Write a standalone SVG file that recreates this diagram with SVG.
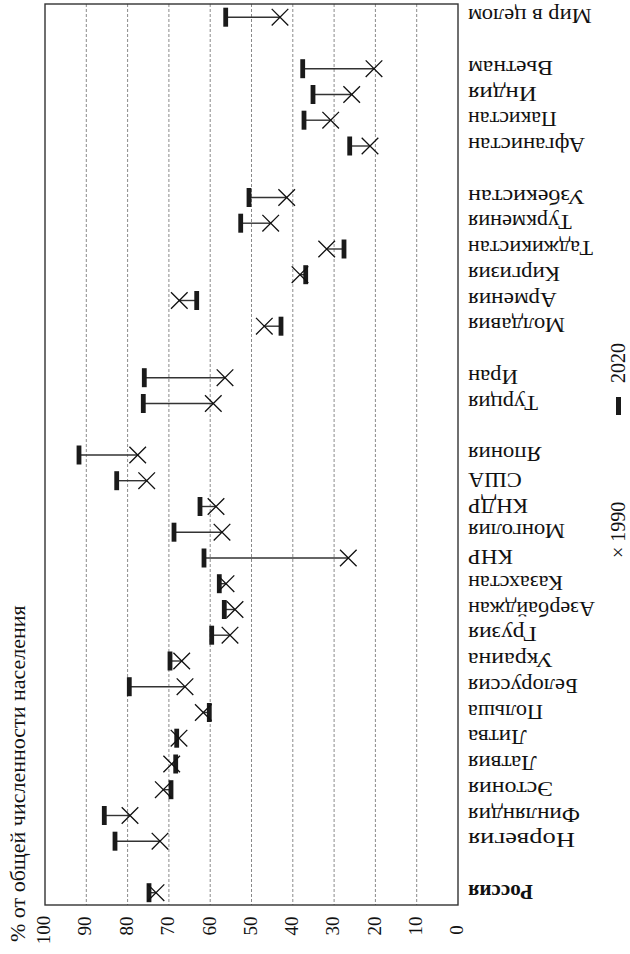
<svg xmlns="http://www.w3.org/2000/svg" xmlns:xlink="http://www.w3.org/1999/xlink" width="630" height="954" viewBox="0 0 630 954">
<style>
.lbl{font-family:"Liberation Serif","Times New Roman",serif;font-size:22px;fill:#111}
.b{font-weight:bold}
.tick{font-family:"Liberation Serif","Times New Roman",serif;font-size:19px;fill:#111}
.leg{font-family:"Liberation Serif","Times New Roman",serif;font-size:20px;fill:#111}
.ttl{font-family:"Liberation Serif","Times New Roman",serif;font-size:22px;fill:#111}
.grid{stroke:#8a8a8a;stroke-width:1;stroke-dasharray:3 2;fill:none}
.frame{fill:none;stroke:#333;stroke-width:1.4}
.conn{stroke:#333;stroke-width:1.4}
.xm{stroke:#111;stroke-width:1.3;fill:none}
.bar{fill:#1a1a1a}
</style>
<defs>
<path id="xmk" class="xm" d="M-8.3,-8.3L8.3,8.3M-8.3,8.3L8.3,-8.3"/>
<rect id="bmk" class="bar" x="-2.4" y="-9.5" width="4.8" height="19"/>
</defs>
<rect x="0" y="0" width="630" height="954" fill="#fff"/>
<g id="grid">
<line class="grid" x1="86.3" y1="4" x2="86.3" y2="905"/>
<line class="grid" x1="127.6" y1="4" x2="127.6" y2="905"/>
<line class="grid" x1="168.9" y1="4" x2="168.9" y2="905"/>
<line class="grid" x1="210.2" y1="4" x2="210.2" y2="905"/>
<line class="grid" x1="251.5" y1="4" x2="251.5" y2="905"/>
<line class="grid" x1="292.8" y1="4" x2="292.8" y2="905"/>
<line class="grid" x1="334.1" y1="4" x2="334.1" y2="905"/>
<line class="grid" x1="375.4" y1="4" x2="375.4" y2="905"/>
<line class="grid" x1="416.7" y1="4" x2="416.7" y2="905"/>
</g>
<rect id="frame" class="frame" x="45" y="4" width="413" height="901"/>
<g id="axis">
<text class="ttl" transform="rotate(-90 25 942)" x="25" y="942">% от общей численности населения</text>
<text class="tick" transform="rotate(-90 50 930)" x="50" y="930" text-anchor="middle">100</text>
<text class="tick" transform="rotate(-90 91 926)" x="91" y="926" text-anchor="middle">90</text>
<text class="tick" transform="rotate(-90 132.5 926)" x="132.5" y="926" text-anchor="middle">80</text>
<text class="tick" transform="rotate(-90 174 926)" x="174" y="926" text-anchor="middle">70</text>
<text class="tick" transform="rotate(-90 215.5 926)" x="215.5" y="926" text-anchor="middle">60</text>
<text class="tick" transform="rotate(-90 256.5 926)" x="256.5" y="926" text-anchor="middle">50</text>
<text class="tick" transform="rotate(-90 298 926)" x="298" y="926" text-anchor="middle">40</text>
<text class="tick" transform="rotate(-90 339 926)" x="339" y="926" text-anchor="middle">30</text>
<text class="tick" transform="rotate(-90 380.5 926)" x="380.5" y="926" text-anchor="middle">20</text>
<text class="tick" transform="rotate(-90 421.5 926)" x="421.5" y="926" text-anchor="middle">10</text>
<text class="tick" transform="rotate(-90 463 930)" x="463" y="930" text-anchor="middle">0</text>
</g>
<g id="legend">
<text class="leg" transform="rotate(-90 625 558)" x="625" y="558">× 1990</text>
<rect class="bar" x="616" y="397" width="5" height="18"/>
<text class="leg" transform="rotate(-90 625 383)" x="625" y="383">2020</text>
</g>
<g id="connectors">
<line class="conn" x1="149" y1="892.7" x2="156" y2="892.7"/>
<line class="conn" x1="115" y1="841.2" x2="160" y2="841.2"/>
<line class="conn" x1="104.3" y1="815.5" x2="130" y2="815.5"/>
<line class="conn" x1="171" y1="789.7" x2="163.3" y2="789.7"/>
<line class="conn" x1="175.7" y1="764" x2="171.7" y2="764"/>
<line class="conn" x1="176.7" y1="738.2" x2="179" y2="738.2"/>
<line class="conn" x1="209.3" y1="712.5" x2="203.3" y2="712.5"/>
<line class="conn" x1="129.3" y1="686.7" x2="185" y2="686.7"/>
<line class="conn" x1="170" y1="661" x2="181.7" y2="661"/>
<line class="conn" x1="211.7" y1="635.2" x2="230" y2="635.2"/>
<line class="conn" x1="224.3" y1="609.5" x2="235" y2="609.5"/>
<line class="conn" x1="219.3" y1="583.7" x2="226" y2="583.7"/>
<line class="conn" x1="204" y1="558" x2="348.3" y2="558"/>
<line class="conn" x1="174" y1="532.2" x2="222" y2="532.2"/>
<line class="conn" x1="200" y1="506.5" x2="216" y2="506.5"/>
<line class="conn" x1="116.7" y1="480.7" x2="146.7" y2="480.7"/>
<line class="conn" x1="79" y1="455" x2="137.7" y2="455"/>
<line class="conn" x1="143.3" y1="403.5" x2="213.3" y2="403.5"/>
<line class="conn" x1="144.3" y1="377.7" x2="225" y2="377.7"/>
<line class="conn" x1="281" y1="326.2" x2="264.3" y2="326.2"/>
<line class="conn" x1="196.7" y1="300.5" x2="179.3" y2="300.5"/>
<line class="conn" x1="305.7" y1="274.7" x2="300" y2="274.7"/>
<line class="conn" x1="344" y1="249" x2="326.7" y2="249"/>
<line class="conn" x1="240.7" y1="223.2" x2="270.7" y2="223.2"/>
<line class="conn" x1="249" y1="197.5" x2="286.7" y2="197.5"/>
<line class="conn" x1="349.7" y1="146" x2="370" y2="146"/>
<line class="conn" x1="304" y1="120.2" x2="330.7" y2="120.2"/>
<line class="conn" x1="313" y1="94.5" x2="351.7" y2="94.5"/>
<line class="conn" x1="302.7" y1="68.7" x2="374" y2="68.7"/>
<line class="conn" x1="225.7" y1="17.2" x2="280" y2="17.2"/>
</g>
<g id="n-russia"><use href="#bmk" x="149" y="892.7"/><use href="#xmk" x="156" y="892.7"/><text class="lbl b" transform="rotate(180 468 884.7)" x="468" y="884.7" text-anchor="end" textLength="65" lengthAdjust="spacingAndGlyphs">Россия</text></g>
<g id="n-norway"><use href="#bmk" x="115" y="841.2"/><use href="#xmk" x="160" y="841.2"/><text class="lbl" transform="rotate(180 468 833.2)" x="468" y="833.2" text-anchor="end" textLength="107" lengthAdjust="spacingAndGlyphs">Норвегия</text></g>
<g id="n-finland"><use href="#bmk" x="104.3" y="815.5"/><use href="#xmk" x="130" y="815.5"/><text class="lbl" transform="rotate(180 468 807.5)" x="468" y="807.5" text-anchor="end" textLength="112" lengthAdjust="spacingAndGlyphs">Финляндия</text></g>
<g id="n-estonia"><use href="#bmk" x="171" y="789.7"/><use href="#xmk" x="163.3" y="789.7"/><text class="lbl" transform="rotate(180 468 781.7)" x="468" y="781.7" text-anchor="end" textLength="85" lengthAdjust="spacingAndGlyphs">Эстония</text></g>
<g id="n-latvia"><use href="#bmk" x="175.7" y="764"/><use href="#xmk" x="171.7" y="764"/><text class="lbl" transform="rotate(180 468 756)" x="468" y="756" text-anchor="end" textLength="68.7" lengthAdjust="spacingAndGlyphs">Латвия</text></g>
<g id="n-lithuania"><use href="#bmk" x="176.7" y="738.2"/><use href="#xmk" x="179" y="738.2"/><text class="lbl" transform="rotate(180 468 730.2)" x="468" y="730.2" text-anchor="end" textLength="58.7" lengthAdjust="spacingAndGlyphs">Литва</text></g>
<g id="n-poland"><use href="#bmk" x="209.3" y="712.5"/><use href="#xmk" x="203.3" y="712.5"/><text class="lbl" transform="rotate(180 468 704.5)" x="468" y="704.5" text-anchor="end" textLength="75" lengthAdjust="spacingAndGlyphs">Польша</text></g>
<g id="n-belarus"><use href="#bmk" x="129.3" y="686.7"/><use href="#xmk" x="185" y="686.7"/><text class="lbl" transform="rotate(180 468 678.7)" x="468" y="678.7" text-anchor="end" textLength="110" lengthAdjust="spacingAndGlyphs">Белоруссия</text></g>
<g id="n-ukraine"><use href="#bmk" x="170" y="661"/><use href="#xmk" x="181.7" y="661"/><text class="lbl" transform="rotate(180 468 653)" x="468" y="653" text-anchor="end" textLength="85" lengthAdjust="spacingAndGlyphs">Украина</text></g>
<g id="n-georgia"><use href="#bmk" x="211.7" y="635.2"/><use href="#xmk" x="230" y="635.2"/><text class="lbl" transform="rotate(180 468 627.2)" x="468" y="627.2" text-anchor="end" textLength="68.7" lengthAdjust="spacingAndGlyphs">Грузия</text></g>
<g id="n-azerbaijan"><use href="#bmk" x="224.3" y="609.5"/><use href="#xmk" x="235" y="609.5"/><text class="lbl" transform="rotate(180 468 601.5)" x="468" y="601.5" text-anchor="end" textLength="127" lengthAdjust="spacingAndGlyphs">Азербайджан</text></g>
<g id="n-kazakhstan"><use href="#bmk" x="219.3" y="583.7"/><use href="#xmk" x="226" y="583.7"/><text class="lbl" transform="rotate(180 468 575.7)" x="468" y="575.7" text-anchor="end" textLength="95" lengthAdjust="spacingAndGlyphs">Казахстан</text></g>
<g id="n-china"><use href="#bmk" x="204" y="558"/><use href="#xmk" x="348.3" y="558"/><text class="lbl" transform="rotate(180 468 550)" x="468" y="550" text-anchor="end" textLength="45" lengthAdjust="spacingAndGlyphs">КНР</text></g>
<g id="n-mongolia"><use href="#bmk" x="174" y="532.2"/><use href="#xmk" x="222" y="532.2"/><text class="lbl" transform="rotate(180 468 524.2)" x="468" y="524.2" text-anchor="end" textLength="97" lengthAdjust="spacingAndGlyphs">Монголия</text></g>
<g id="n-dprk"><use href="#bmk" x="200" y="506.5"/><use href="#xmk" x="216" y="506.5"/><text class="lbl" transform="rotate(180 468 498.5)" x="468" y="498.5" text-anchor="end" textLength="60" lengthAdjust="spacingAndGlyphs">КНДР</text></g>
<g id="n-usa"><use href="#bmk" x="116.7" y="480.7"/><use href="#xmk" x="146.7" y="480.7"/><text class="lbl" transform="rotate(180 468 472.7)" x="468" y="472.7" text-anchor="end" textLength="53.7" lengthAdjust="spacingAndGlyphs">США</text></g>
<g id="n-japan"><use href="#bmk" x="79" y="455"/><use href="#xmk" x="137.7" y="455"/><text class="lbl" transform="rotate(180 468 447)" x="468" y="447" text-anchor="end" textLength="73.7" lengthAdjust="spacingAndGlyphs">Япония</text></g>
<g id="n-turkey"><use href="#bmk" x="143.3" y="403.5"/><use href="#xmk" x="213.3" y="403.5"/><text class="lbl" transform="rotate(180 468 395.5)" x="468" y="395.5" text-anchor="end" textLength="70" lengthAdjust="spacingAndGlyphs">Турция</text></g>
<g id="n-iran"><use href="#bmk" x="144.3" y="377.7"/><use href="#xmk" x="225" y="377.7"/><text class="lbl" transform="rotate(180 468 369.7)" x="468" y="369.7" text-anchor="end" textLength="50" lengthAdjust="spacingAndGlyphs">Иран</text></g>
<g id="n-moldova"><use href="#bmk" x="281" y="326.2"/><use href="#xmk" x="264.3" y="326.2"/><text class="lbl" transform="rotate(180 468 318.2)" x="468" y="318.2" text-anchor="end" textLength="97" lengthAdjust="spacingAndGlyphs">Молдавия</text></g>
<g id="n-armenia"><use href="#bmk" x="196.7" y="300.5"/><use href="#xmk" x="179.3" y="300.5"/><text class="lbl" transform="rotate(180 468 292.5)" x="468" y="292.5" text-anchor="end" textLength="88.7" lengthAdjust="spacingAndGlyphs">Армения</text></g>
<g id="n-kyrgyzstan"><use href="#bmk" x="305.7" y="274.7"/><use href="#xmk" x="300" y="274.7"/><text class="lbl" transform="rotate(180 468 266.7)" x="468" y="266.7" text-anchor="end" textLength="92" lengthAdjust="spacingAndGlyphs">Киргизия</text></g>
<g id="n-tajikistan"><use href="#bmk" x="344" y="249"/><use href="#xmk" x="326.7" y="249"/><text class="lbl" transform="rotate(180 468 241)" x="468" y="241" text-anchor="end" textLength="125" lengthAdjust="spacingAndGlyphs">Таджикистан</text></g>
<g id="n-turkmenistan"><use href="#bmk" x="240.7" y="223.2"/><use href="#xmk" x="270.7" y="223.2"/><text class="lbl" transform="rotate(180 468 215.2)" x="468" y="215.2" text-anchor="end" textLength="103.7" lengthAdjust="spacingAndGlyphs">Туркмения</text></g>
<g id="n-uzbekistan"><use href="#bmk" x="249" y="197.5"/><use href="#xmk" x="286.7" y="197.5"/><text class="lbl" transform="rotate(180 468 189.5)" x="468" y="189.5" text-anchor="end" textLength="117" lengthAdjust="spacingAndGlyphs">Узбекистан</text></g>
<g id="n-afghanistan"><use href="#bmk" x="349.7" y="146"/><use href="#xmk" x="370" y="146"/><text class="lbl" transform="rotate(180 468 138)" x="468" y="138" text-anchor="end" textLength="117" lengthAdjust="spacingAndGlyphs">Афганистан</text></g>
<g id="n-pakistan"><use href="#bmk" x="304" y="120.2"/><use href="#xmk" x="330.7" y="120.2"/><text class="lbl" transform="rotate(180 468 112.2)" x="468" y="112.2" text-anchor="end" textLength="88.7" lengthAdjust="spacingAndGlyphs">Пакистан</text></g>
<g id="n-india"><use href="#bmk" x="313" y="94.5"/><use href="#xmk" x="351.7" y="94.5"/><text class="lbl" transform="rotate(180 468 86.5)" x="468" y="86.5" text-anchor="end" textLength="68.7" lengthAdjust="spacingAndGlyphs">Индия</text></g>
<g id="n-vietnam"><use href="#bmk" x="302.7" y="68.7"/><use href="#xmk" x="374" y="68.7"/><text class="lbl" transform="rotate(180 468 60.7)" x="468" y="60.7" text-anchor="end" textLength="85" lengthAdjust="spacingAndGlyphs">Вьетнам</text></g>
<g id="n-world"><use href="#bmk" x="225.7" y="17.2"/><use href="#xmk" x="280" y="17.2"/><text class="lbl" transform="rotate(180 468 9.2)" x="468" y="9.2" text-anchor="end" textLength="123.7" lengthAdjust="spacingAndGlyphs">Мир в целом</text></g>
</svg>
